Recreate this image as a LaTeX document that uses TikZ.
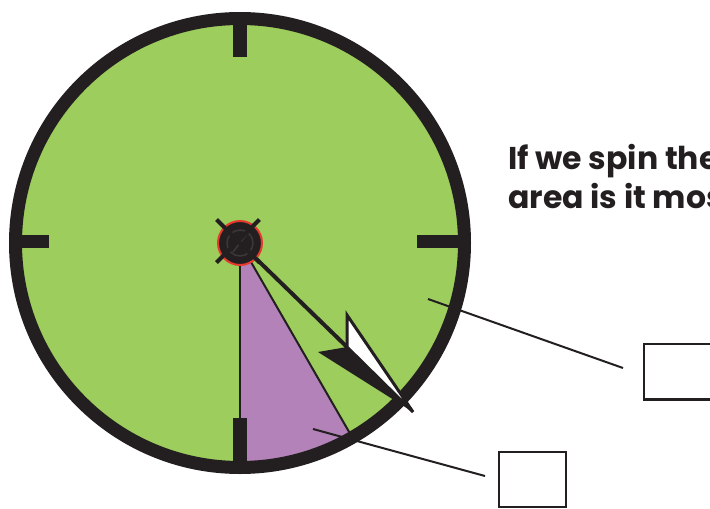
\documentclass[tikz,border=0pt]{standalone}
\usepackage{fontspec}
\setmainfont{Poppins}
\definecolor{ringc}{RGB}{35,31,32}
\definecolor{greenc}{RGB}{157,205,92}
\definecolor{purplec}{RGB}{178,130,184}
\definecolor{redc}{RGB}{230,58,46}
\definecolor{hubinner}{RGB}{60,56,57}
\begin{document}
\begin{tikzpicture}[x=1pt,y=-1pt,
  ringline/.style={draw=ringc, line width=13pt},
  tickmark/.style={draw=ringc, line width=13.5pt},
  edgeline/.style={draw=ringc, line width=2pt},
  callout/.style={draw=ringc, line width=2pt},
  answerbox/.style={draw=ringc, line width=2.2pt, minimum width=67.4pt, minimum height=55.4pt, inner sep=0pt, fill=white},
  question/.style={anchor=base west, inner sep=0pt, font=\bfseries\fontsize{31.5}{38}\selectfont, text=ringc}]
\useasboundingbox (0,0) rectangle (710,509);
\clip (0,0) rectangle (710,509);
\coordinate (c) at (240,243);
% disk
\fill[greenc] (c) circle (220pt);
% purple sector
\fill[purplec] (c) -- ++(-90:219pt) arc[start angle=-90, end angle=-60, radius=219pt] -- cycle;
\draw[edgeline] (c) -- ++(-90:219pt);
\draw[edgeline] (c) -- ++(-60:219pt);
% ring
\draw[ringline] (c) circle (224.5pt);
% ticks
\draw[tickmark] (240,24) -- (240,57);
\draw[tickmark] (22,241.5) -- (49,241.5);
\draw[tickmark] (417,241.5) -- (458,241.5);
\draw[tickmark] (240,418) -- (240,462);
% callouts
\node[answerbox] (box1) at (677.5,371.7) {};
\node[answerbox] (box2) at (532.5,479.5) {};
\coordinate (p1) at (428,299);
\coordinate (e1) at (623,368);
\coordinate (p2) at (313,429);
\coordinate (e2) at (485,476);
\draw[callout] (p1) -- (e1);
\draw[callout] (p2) -- (e2);
% pointer
\coordinate (notch) at (347,347);
\coordinate (tip) at (413,412);
\coordinate (barbL) at (318,352);
\coordinate (barbT) at (347,315);
\draw[draw=ringc, line width=4pt] (c) -- (notch);
\fill[ringc] (barbL) -- (notch) -- (tip) -- cycle;
\draw[draw=ringc, fill=white, line width=3pt, line join=miter] (barbT) -- (tip) -- (notch) -- cycle;
% hub
\node[circle, fill=ringc, draw=redc, line width=2pt, minimum size=44pt, inner sep=0pt] (hub) at (c) {};
\draw[hubinner, line width=1.5pt] (hub.center) circle (13pt);
\draw[hubinner, line width=1.5pt] (233,234) -- (247,252) (247,234) -- (233,252);
\draw[ringc, line width=4pt] (216.5,219.5) -- (259.5,262.5);
\draw[ringc, line width=4pt] (259.5,219.5) -- (216.5,262.5);
% text
\node[question] (q1) at (508,169) {If we spin the};
\node[question] (q2) at (508,208) {area is it mos};
\end{tikzpicture}
\end{document}
